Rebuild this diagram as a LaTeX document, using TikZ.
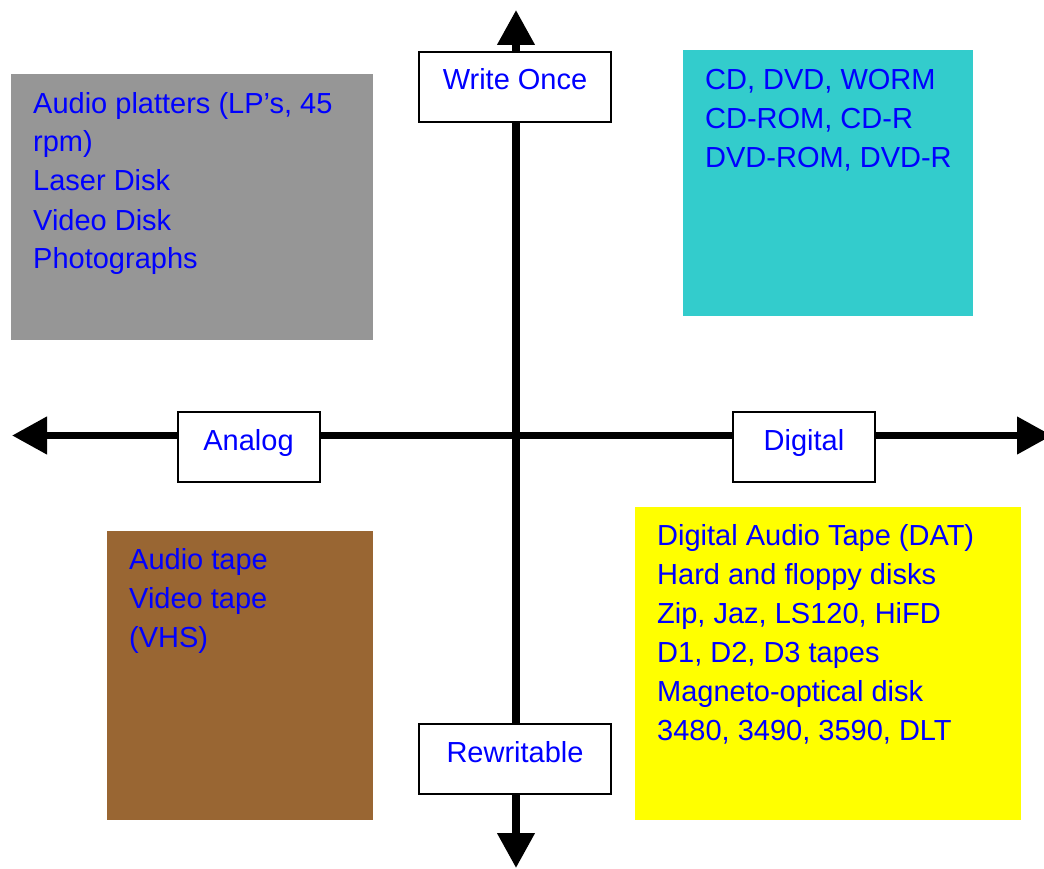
\documentclass[tikz,border=0pt]{standalone}
\usepackage{fontspec}
\setmainfont{Liberation Sans}
\usetikzlibrary{arrows.meta,backgrounds}
\definecolor{grayfill}{HTML}{969696}
\definecolor{cyanfill}{HTML}{33CCCC}
\definecolor{brownfill}{HTML}{996633}
\definecolor{yellowfill}{HTML}{FFFF00}
\definecolor{textblue}{HTML}{0000FF}
\begin{document}
\begin{tikzpicture}[x=1pt,y=-1pt,
  axis/.style={line width=7.5pt},
  tipped/.style={-{Triangle[length=35pt,width=36pt]}},
  labelbox/.style={draw=black, line width=2pt, fill=white, minimum height=70pt,
    inner sep=0pt, text=textblue, font=\fontsize{29}{34}\selectfont,
    text height=20pt, text depth=14pt},
  area/.style={inner sep=0pt, anchor=north west},
  items/.style={anchor=base west, inner sep=0pt, align=left, text=textblue,
    font=\fontsize{29}{39}\selectfont}]
\useasboundingbox (0,0) rectangle (1044,869);
% quadrant areas
\node[area, fill=grayfill, minimum width=362pt, minimum height=266pt] (qa) at (11,74) {};
\node[area, fill=cyanfill, minimum width=290pt, minimum height=266pt] (qb) at (683,50) {};
\node[area, fill=brownfill, minimum width=266pt, minimum height=289pt] (qc) at (107,531) {};
\node[area, fill=yellowfill, minimum width=386pt, minimum height=313pt] (qd) at (635,507) {};
% quadrant texts (anchored at the baseline of the last line)
\node[items] (ta) at (33,269) {Audio platters (LP’s, 45\\rpm)\\Laser Disk\\Video Disk\\Photographs};
\node[items] (tb) at (705,168) {CD, DVD, WORM\\CD-ROM, CD-R\\DVD-ROM, DVD-R};
\node[items] (tc) at (129,647) {Audio tape\\Video tape\\(VHS)};
\node[items] (td) at (657,740) {Digital Audio Tape (DAT)\\Hard and floppy disks\\Zip, Jaz, LS120, HiFD\\D1, D2, D3 tapes\\Magneto-optical disk\\3480, 3490, 3590, DLT};
% axis labels
\node[labelbox, minimum width=192pt] (wo) at (515,87) {Write Once};
\node[labelbox, minimum width=142pt] (analog) at (248.5,447) {Analog};
\node[labelbox, minimum width=142pt] (digital) at (804,447) {Digital};
\node[labelbox, minimum width=192pt] (rw) at (515,759) {Rewritable};
% axes
\coordinate (o) at (516,435.5);
\coordinate (ntip) at (516,10);
\coordinate (stip) at (516,868);
\coordinate (wtip) at (12,435.5);
\coordinate (etip) at (1052,435.5);
\begin{pgfonlayer}{background}
\draw[axis] (wo.south -| o) -- (rw.north -| o);
\draw[axis,tipped] (wo.north -| o) -- (ntip);
\draw[axis,tipped] (rw.south -| o) -- (stip);
\draw[axis] (analog.east |- o) -- (digital.west |- o);
\draw[axis,tipped] (analog.west |- o) -- (wtip);
\draw[axis,tipped] (digital.east |- o) -- (etip);
\end{pgfonlayer}
\end{tikzpicture}
\end{document}
